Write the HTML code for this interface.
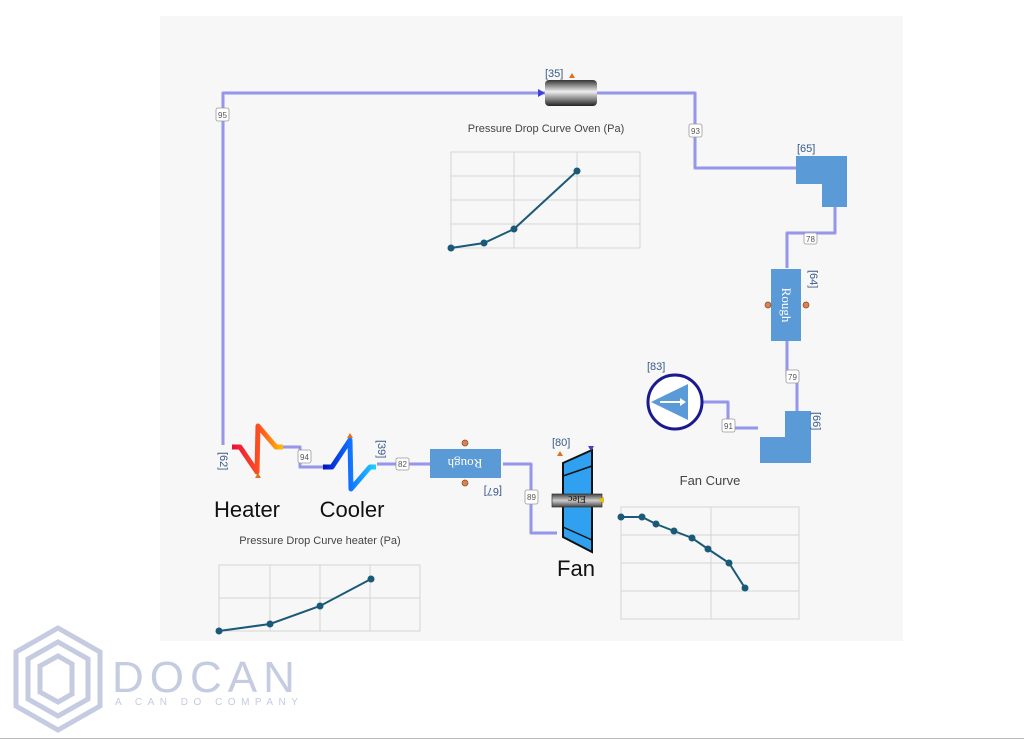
<!DOCTYPE html>
<html><head><meta charset="utf-8"><style>
html,body{margin:0;padding:0;background:#fff;width:1024px;height:740px;overflow:hidden}
svg{display:block}
text{font-family:"Liberation Sans",sans-serif}
text.serif{font-family:"Liberation Serif",serif}
</style></head><body>
<svg width="1024" height="740" viewBox="0 0 1024 740" xmlns="http://www.w3.org/2000/svg">
<defs>
<linearGradient id="cyl" x1="0" y1="0" x2="0" y2="1"><stop offset="0" stop-color="#333"/><stop offset="0.45" stop-color="#eee"/><stop offset="1" stop-color="#222"/></linearGradient>
<linearGradient id="heat" x1="0" y1="0" x2="1" y2="0"><stop offset="0" stop-color="#e8103a"/><stop offset="0.6" stop-color="#ff5a20"/><stop offset="1" stop-color="#ffc000"/></linearGradient>
<linearGradient id="cool" x1="0" y1="0" x2="1" y2="0"><stop offset="0" stop-color="#0010c0"/><stop offset="0.5" stop-color="#1070ff"/><stop offset="1" stop-color="#20d0ff"/></linearGradient>
<linearGradient id="elec" x1="0" y1="0" x2="0" y2="1"><stop offset="0" stop-color="#444"/><stop offset="0.5" stop-color="#ccc"/><stop offset="1" stop-color="#444"/></linearGradient>
</defs>
<rect x="160" y="16" width="743" height="625" fill="#f7f7f7"/>
<line x1="0" y1="738.5" x2="1024" y2="738.5" stroke="#bbb"/>
<g fill="none" stroke="#b4b4f2" stroke-width="3.5" stroke-linejoin="round">
<path d="M223,445 V93 H545"/>
<path d="M597,93 H695 V168 H796"/>
<path d="M835,207 V233 H787 V268"/>
<path d="M787,341 V375 H797 V411"/>
<path d="M703,402 H728 V428 H758"/>
<path d="M557,533 H531 V464 H503"/>
<path d="M430,464 H377"/>
<path d="M323,467 H300 V447 H283"/>
</g>
<g fill="none" stroke="#7a7ae0" stroke-width="1">
<path d="M223,445 V93 H545"/><path d="M597,93 H695 V168 H796"/><path d="M835,207 V233 H787 V268"/>
<path d="M787,341 V375 H797 V411"/><path d="M703,402 H728 V428 H758"/><path d="M557,533 H531 V464 H503"/>
<path d="M430,464 H377"/><path d="M323,467 H300 V447 H283"/>
</g>
<g fill="#fff" stroke="#999" stroke-width="0.8" font-size="8" text-anchor="middle">
<rect x="216" y="108" width="13" height="13" rx="2"/><text x="222.5" y="118" fill="#555" stroke="none">95</text>
<rect x="689" y="124" width="13" height="13" rx="2"/><text x="695.5" y="134" fill="#555" stroke="none">93</text>
<rect x="804" y="233" width="13" height="11" rx="2"/><text x="810.5" y="242" fill="#555" stroke="none">78</text>
<rect x="786" y="370" width="13" height="13" rx="2"/><text x="792.5" y="380" fill="#555" stroke="none">79</text>
<rect x="722" y="419" width="13" height="13" rx="2"/><text x="728.5" y="429" fill="#555" stroke="none">91</text>
<rect x="525" y="490" width="13" height="14" rx="2"/><text x="531.5" y="500" fill="#555" stroke="none">89</text>
<rect x="396" y="458" width="13" height="12" rx="2"/><text x="402.5" y="467" fill="#555" stroke="none">82</text>
<rect x="298" y="450" width="13" height="13" rx="2"/><text x="304.5" y="460" fill="#555" stroke="none">94</text>
</g>
<rect x="545" y="80" width="52" height="26" rx="4" fill="url(#cyl)"/>
<polygon points="538,89 545,93 538,97" fill="#4040e0"/>
<polygon points="569,78 572,73 575,78" fill="#e07020"/>
<text x="545" y="77" font-size="11" fill="#3a5a8a">[35]</text>
<text x="546" y="132" font-size="11" fill="#444" text-anchor="middle">Pressure Drop Curve Oven (Pa)</text>
<g stroke="#d4d4d4" fill="none"><rect x="451" y="152" width="189" height="96"/><path d="M514,152V248M577,152V248M451,176H640M451,200H640M451,224H640"/></g>
<polyline points="451,248 484,243 514,229 577,171" fill="none" stroke="#1a5a78" stroke-width="2"/>
<g fill="#1a5a78"><circle cx="451" cy="248" r="3.5"/><circle cx="484" cy="243" r="3.5"/><circle cx="514" cy="229" r="3.5"/><circle cx="577" cy="171" r="3.5"/></g>
<path d="M796,156H847V207H822V184H796Z" fill="#5a9ad6"/>
<text x="797" y="152" font-size="11" fill="#3a5a8a">[65]</text>
<rect x="771" y="269" width="30" height="72" fill="#5a9ad6"/>
<text class="serif" transform="translate(782,305) rotate(90)" font-size="13" fill="#fff" text-anchor="middle">Rough</text>
<circle cx="768" cy="305" r="3" fill="#e08050" stroke="#7a4a2a" stroke-width="0.7"/><circle cx="806" cy="305" r="3" fill="#e08050" stroke="#7a4a2a" stroke-width="0.7"/>
<text transform="translate(810,270) rotate(90)" font-size="11" fill="#3a5a8a">[64]</text>
<path d="M785,411H811V463H760V437H785Z" fill="#5a9ad6"/>
<text transform="translate(813,412) rotate(90)" font-size="11" fill="#3a5a8a">[66]</text>
<circle cx="675" cy="402" r="27" fill="#fff" stroke="#1a1a90" stroke-width="3"/>
<polygon points="651,402 688,384 688,420" fill="#5a9ad6"/>
<path d="M660,402H680" stroke="#fff" stroke-width="2"/><polygon points="680,398 686,402 680,406" fill="#fff"/>
<text x="647" y="370" font-size="11" fill="#3a5a8a">[83]</text>
<text x="710" y="485" font-size="13" fill="#444" text-anchor="middle">Fan Curve</text>
<g stroke="#d4d4d4" fill="none"><rect x="621" y="507" width="178" height="112"/><path d="M711,507V619M621,535H799M621,563H799M621,591H799"/></g>
<polyline points="621,517 642,517 656,524 674,531 692,538 708,549 729,563 745,588" fill="none" stroke="#1a5a78" stroke-width="2"/>
<g fill="#1a5a78"><circle cx="621" cy="517" r="3.5"/><circle cx="642" cy="517" r="3.5"/><circle cx="656" cy="524" r="3.5"/><circle cx="674" cy="531" r="3.5"/><circle cx="692" cy="538" r="3.5"/><circle cx="708" cy="549" r="3.5"/><circle cx="729" cy="563" r="3.5"/><circle cx="745" cy="588" r="3.5"/></g>
<polygon points="563,463 592,450 592,552 563,537" fill="#30a0f0" stroke="#111" stroke-width="2"/>
<path d="M563,476L592,466M563,527L592,540" stroke="#111" stroke-width="1.5"/>
<rect x="552" y="494" width="50" height="13" fill="url(#elec)" stroke="#333" stroke-width="0.7"/>
<text class="serif" transform="translate(577,500) rotate(180)" y="4" font-size="10" text-anchor="middle" fill="#111">Elec</text>
<polygon points="604,497 598,500 604,503" fill="#f0c000"/>
<polygon points="557,456 560,451 563,456" fill="#e07020"/>
<polygon points="588,446 594,446 591,451" fill="#4040c0"/>
<text x="552" y="446" font-size="11" fill="#3a5a8a">[80]</text>
<text x="576" y="576" font-size="22" fill="#111" text-anchor="middle">Fan</text>
<rect x="430" y="449" width="71" height="29" fill="#5a9ad6"/>
<text class="serif" transform="translate(465,463) rotate(180)" y="4" font-size="13" fill="#fff" text-anchor="middle">Rough</text>
<circle cx="465" cy="443" r="3" fill="#e08050" stroke="#7a4a2a" stroke-width="0.7"/><circle cx="465" cy="483" r="3" fill="#e08050" stroke="#7a4a2a" stroke-width="0.7"/>
<text transform="translate(502,488) rotate(180)" font-size="11" fill="#3a5a8a">[67]</text>
<polyline points="323,467 332,467 350,440 351,489 370,467 376,467" fill="none" stroke="url(#cool)" stroke-width="5" stroke-linejoin="round"/>
<polygon points="347,438 350,433 353,438" fill="#e07020"/>
<text transform="translate(378,440) rotate(90)" font-size="11" fill="#3a5a8a">[39]</text>
<text x="352" y="517" font-size="22" fill="#111" text-anchor="middle">Cooler</text>
<polyline points="232,447 240,447 257,472 258,426 276,447 283,447" fill="none" stroke="url(#heat)" stroke-width="5" stroke-linejoin="round"/>
<polygon points="255,478 258,473 261,478" fill="#e07020"/>
<text transform="translate(220,452) rotate(90)" font-size="11" fill="#3a5a8a">[62]</text>
<text x="247" y="517" font-size="22" fill="#111" text-anchor="middle">Heater</text>
<text x="320" y="544" font-size="11" fill="#444" text-anchor="middle">Pressure Drop Curve heater (Pa)</text>
<g stroke="#d4d4d4" fill="none"><rect x="219" y="565" width="201" height="66"/><path d="M270,565V631M320,565V631M370,565V631M219,598H420"/></g>
<polyline points="219,631 270,624 320,606 371,579" fill="none" stroke="#1a5a78" stroke-width="2"/>
<g fill="#1a5a78"><circle cx="219" cy="631" r="3.5"/><circle cx="270" cy="624" r="3.5"/><circle cx="320" cy="606" r="3.5"/><circle cx="371" cy="579" r="3.5"/></g>
<g fill="none" stroke="#c5cbe0" stroke-width="5">
<polygon points="58,628 100,652 100,706 58,730 16,706 16,652"/>
<polygon points="58,642 88,659 88,699 58,716 28,699 28,659"/>
<path d="M72,664 L58,656 40,666 40,692 58,702 72,694 Z"/>
</g>
<text x="112" y="692" font-size="44" fill="#c5cbe0" letter-spacing="6">DOCAN</text>
<text x="115" y="705" font-size="10" fill="#c5cbe0" letter-spacing="5.5">A CAN DO COMPANY</text>
</svg>
</body></html>
